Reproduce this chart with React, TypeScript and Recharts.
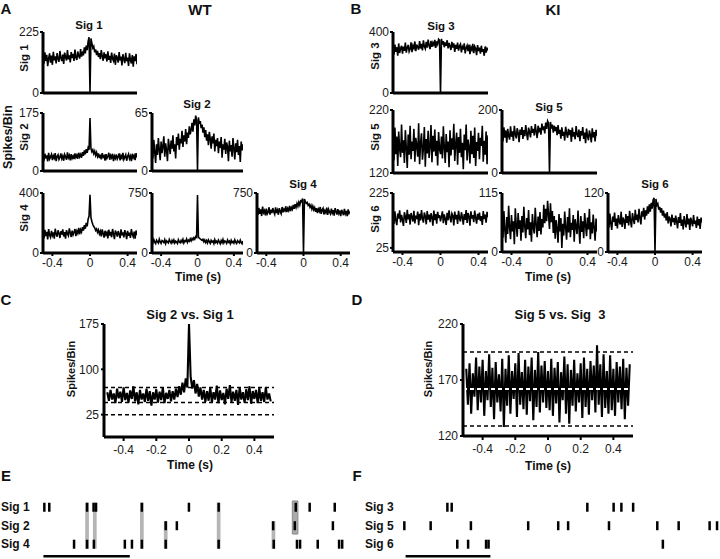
import { LineChart, Line, XAxis, YAxis, ReferenceLine, ReferenceArea, ScatterChart, Scatter } from 'recharts';

const FONT = '"Liberation Sans", Arial, Helvetica, sans-serif';

// lag bins (s)
const lags = [
  -0.5, -0.49, -0.48, -0.47, -0.46, -0.45, -0.44, -0.43, -0.42, -0.41,
  -0.4, -0.39, -0.38, -0.37, -0.36, -0.35, -0.34, -0.33, -0.32, -0.31,
  -0.3, -0.29, -0.28, -0.27, -0.26, -0.25, -0.24, -0.23, -0.22, -0.21,
  -0.2, -0.19, -0.18, -0.17, -0.16, -0.15, -0.14, -0.13, -0.12, -0.11,
  -0.1, -0.09, -0.08, -0.07, -0.06, -0.05, -0.04, -0.03, -0.02, -0.01,
  0,
  0.01, 0.02, 0.03, 0.04, 0.05, 0.06, 0.07, 0.08, 0.09, 0.1,
  0.11, 0.12, 0.13, 0.14, 0.15, 0.16, 0.17, 0.18, 0.19, 0.2,
  0.21, 0.22, 0.23, 0.24, 0.25, 0.26, 0.27, 0.28, 0.29, 0.3,
  0.31, 0.32, 0.33, 0.34, 0.35, 0.36, 0.37, 0.38, 0.39, 0.4,
  0.41, 0.42, 0.43, 0.44, 0.45, 0.46, 0.47, 0.48, 0.49, 0.5,
];

// WT correlograms (spikes/bin)
const wtSig1Sig1 = [
  132, 108, 150, 118, 141, 99, 128, 146, 112, 138,
  104, 152, 121, 135, 109, 147, 126, 115, 155, 130,
  118, 142, 107, 149, 133, 120, 158, 124, 139, 113,
  151, 129, 144, 118, 160, 131, 122, 153, 137, 127,
  162, 134, 148, 139, 168, 146, 175, 158, 190, 206,
  0,
  201, 184, 166, 172, 150, 161, 140, 155, 133, 147,
  125, 158, 136, 119, 150, 128, 143, 116, 154, 122,
  137, 111, 149, 126, 118, 145, 104, 139, 130, 112,
  151, 120, 134, 102, 143, 125, 110, 148, 117, 131,
  100, 146, 123, 109, 140, 97, 135, 118, 144, 106,
];
const wtSig2Sig1 = [
  44, 31, 52, 38, 47, 29, 55, 36, 42, 50,
  33, 46, 39, 54, 30, 44, 49, 35, 41, 53,
  37, 45, 31, 50, 43, 34, 56, 40, 47, 32,
  51, 38, 45, 36, 53, 41, 48, 37, 55, 43,
  50, 40, 57, 46, 62, 50, 66, 55, 70, 64,
  160,
  68, 58, 64, 52, 60, 47, 56, 44, 53, 39,
  49, 35, 54, 42, 46, 31, 51, 38, 44, 55,
  34, 47, 40, 52, 30, 45, 38, 50, 36, 43,
  53, 32, 46, 39, 55, 35, 42, 49, 31, 44,
  51, 37, 45, 30, 52, 40, 47, 33, 54, 41,
];
const wtSig2Sig2 = [
  26, 14, 35, 21, 9, 30, 18, 37, 24, 12,
  33, 20, 28, 39, 16, 31, 23, 11, 36, 27,
  19, 34, 25, 40, 22, 30, 14, 38, 29, 42,
  24, 36, 31, 45, 27, 40, 33, 47, 30, 43,
  37, 50, 41, 46, 54, 44, 58, 51, 62, 57,
  0,
  60, 53, 56, 48, 52, 43, 49, 38, 46, 34,
  41, 29, 44, 36, 25, 39, 31, 42, 22, 35,
  28, 37, 20, 33, 26, 38, 15, 30, 24, 36,
  19, 32, 27, 11, 34, 22, 29, 16, 37, 25,
  13, 31, 21, 35, 18, 28, 10, 33, 23, 30,
];
const wtSig4Sig1 = [
  130, 98, 155, 112, 141, 90, 160, 120, 105, 148,
  118, 137, 95, 162, 126, 109, 151, 132, 100, 145,
  123, 157, 110, 139, 96, 152, 128, 115, 164, 134,
  107, 149, 121, 138, 160, 113, 146, 131, 168, 125,
  155, 140, 172, 150, 185, 162, 200, 178, 225, 246,
  388,
  238, 210, 190, 176, 168, 150, 160, 138, 154, 127,
  145, 111, 158, 130, 102, 148, 122, 136, 97, 155,
  117, 141, 105, 160, 128, 93, 150, 134, 110, 146,
  125, 99, 157, 119, 138, 104, 152, 131, 92, 147,
  114, 136, 101, 159, 124, 108, 143, 96, 150, 120,
];
const wtSig4Sig2 = [
  150, 128, 168, 135, 118, 160, 142, 125, 172, 138,
  120, 155, 146, 130, 165, 117, 152, 139, 127, 170,
  144, 122, 158, 133, 162, 124, 149, 137, 119, 166,
  141, 129, 157, 136, 171, 126, 153, 145, 175, 134,
  160, 148, 178, 152, 182, 165, 190, 172, 205, 196,
  725,
  200, 185, 176, 168, 158, 172, 140, 163, 131, 156,
  126, 164, 143, 121, 159, 137, 150, 118, 167, 132,
  147, 124, 161, 139, 116, 155, 130, 169, 127, 151,
  142, 120, 163, 135, 148, 117, 158, 129, 144, 123,
  165, 134, 119, 154, 140, 126, 161, 131, 115, 149,
];
const wtSig4Sig4 = [
  520, 475, 565, 490, 545, 462, 580, 505, 530, 470,
  555, 488, 510, 572, 480, 540, 498, 562, 515, 485,
  570, 500, 535, 478, 560, 520, 492, 575, 508, 548,
  528, 584, 512, 556, 530, 590, 522, 568, 545, 600,
  552, 610, 570, 620, 585, 635, 600, 650, 640, 682,
  0,
  676, 642, 620, 632, 595, 610, 572, 598, 550, 585,
  540, 568, 515, 560, 498, 548, 520, 575, 490, 538,
  560, 482, 530, 505, 566, 476, 545, 512, 488, 555,
  500, 535, 468, 560, 522, 480, 548, 495, 530, 462,
  540, 508, 472, 552, 490, 525, 460, 545, 498, 520,
];

// KI correlograms
const kiSig3Sig3 = [
  285, 252, 318, 270, 300, 245, 325, 262, 292, 310,
  258, 305, 276, 330, 265, 298, 315, 272, 288, 332,
  268, 310, 294, 338, 275, 318, 300, 284, 340, 292,
  322, 280, 345, 305, 290, 335, 298, 350, 312, 288,
  342, 302, 330, 315, 348, 296, 338, 320, 352, 345,
  0,
  355, 318, 340, 300, 332, 310, 346, 292, 328, 306,
  282, 336, 298, 325, 270, 315, 290, 330, 278, 308,
  320, 266, 302, 285, 326, 260, 296, 312, 274, 318,
  255, 300, 284, 322, 262, 306, 292, 248, 314, 276,
  298, 258, 310, 270, 288, 244, 305, 265, 292, 280,
];
const kiSig5Sig3 = [
  165, 140, 192, 150, 178, 131, 186, 158, 145, 197,
  152, 172, 136, 188, 160, 128, 181, 149, 195, 142,
  170, 155, 190, 138, 176, 163, 146, 199, 134, 168,
  183, 141, 159, 193, 130, 174, 151, 187, 144, 162,
  196, 137, 179, 154, 189, 147, 171, 132, 185, 158,
  150,
  178, 143, 194, 160, 136, 182, 153, 170, 129, 188,
  148, 175, 157, 198, 139, 166, 184, 133, 177, 152,
  190, 145, 168, 126, 181, 156, 197, 140, 173, 161,
  135, 187, 150, 179, 144, 192, 131, 169, 155, 184,
  142, 176, 163, 195, 138, 171, 149, 186, 134, 180,
];
const kiSig5Sig5 = [
  128, 100, 145, 112, 135, 96, 140, 118, 106, 148,
  115, 132, 102, 150, 123, 110, 142, 127, 98, 138,
  121, 146, 108, 136, 117, 152, 125, 104, 144, 130,
  113, 149, 128, 140, 119, 155, 131, 111, 150, 134,
  143, 122, 157, 136, 148, 126, 160, 140, 165, 158,
  0,
  162, 141, 154, 128, 150, 133, 146, 120, 152, 124,
  137, 109, 145, 118, 131, 103, 147, 126, 112, 140,
  120, 136, 99, 144, 116, 130, 107, 149, 123, 114,
  138, 101, 133, 119, 146, 108, 128, 95, 141, 117,
  104, 135, 121, 97, 142, 113, 130, 100, 137, 118,
];
const kiSig6Sig3 = [
  140, 112, 158, 124, 108, 150, 132, 162, 118, 145,
  127, 105, 155, 138, 116, 164, 129, 147, 110, 152,
  136, 121, 160, 114, 143, 130, 157, 108, 149, 125,
  163, 133, 117, 154, 141, 111, 159, 128, 146, 119,
  151, 137, 106, 161, 126, 148, 113, 156, 134, 144,
  122,
  139, 158, 115, 147, 131, 109, 153, 126, 162, 136,
  118, 150, 142, 107, 157, 129, 145, 112, 160, 133,
  121, 155, 138, 110, 148, 127, 163, 116, 152, 140,
  106, 158, 132, 144, 119, 161, 135, 113, 149, 128,
  154, 123, 141, 109, 159, 130, 146, 117, 156, 137,
];
const kiSig6Sig5 = [
  55, 28, 80, 42, 18, 68, 35, 90, 48, 25,
  72, 40, 60, 15, 85, 52, 30, 76, 45, 62,
  22, 70, 38, 88, 50, 27, 66, 44, 82, 33,
  58, 20, 74, 47, 36, 86, 53, 29, 69, 41,
  78, 34, 64, 48, 92, 56, 84, 60, 100, 72,
  45,
  95, 58, 80, 37, 70, 26, 62, 45, 18, 74,
  40, 66, 8, 55, 32, 79, 47, 24, 68, 38,
  85, 29, 57, 43, 72, 20, 64, 50, 35, 81,
  46, 16, 70, 39, 60, 27, 76, 52, 31, 67,
  44, 84, 25, 58, 36, 73, 48, 22, 65, 40,
];
const kiSig6Sig6 = [
  66, 50, 78, 58, 45, 72, 61, 80, 53, 68,
  48, 75, 62, 56, 82, 51, 70, 64, 47, 77,
  59, 73, 54, 84, 63, 50, 79, 67, 57, 86,
  65, 76, 60, 88, 69, 56, 83, 72, 90, 66,
  85, 74, 93, 78, 97, 82, 100, 88, 106, 110,
  0,
  108, 95, 98, 86, 92, 80, 89, 74, 84, 70,
  78, 64, 81, 58, 72, 67, 52, 76, 61, 69,
  55, 74, 63, 48, 71, 59, 79, 53, 66, 46,
  73, 60, 50, 77, 56, 68, 45, 70, 62, 52,
  75, 57, 64, 49, 72, 54, 67, 47, 70, 60,
];

// C / D enlarged cross-correlograms
const cSig2vsSig1 = [
  62, 48, 66, 50, 60, 44, 68, 52, 63, 46,
  70, 49, 61, 45, 65, 51, 72, 47, 62, 42,
  66, 50, 60, 46, 68, 48, 64, 40, 62, 50,
  67, 45, 63, 49, 70, 44, 61, 51, 66, 47,
  64, 50, 68, 54, 72, 58, 78, 62, 85, 70,
  175,
  88, 68, 82, 60, 76, 55, 70, 50, 66, 46,
  64, 48, 70, 45, 62, 50, 73, 44, 65, 49,
  61, 42, 68, 51, 74, 46, 63, 48, 66, 41,
  70, 50, 62, 45, 67, 49, 72, 43, 64, 51,
  66, 44, 69, 48, 62, 46, 70, 50, 60, 47,
];
const cBounds = [70, 45, 25];

const dSig5vsSig3 = [
  180, 148, 185, 140, 176, 155, 190, 143, 182, 150,
  188, 138, 178, 152, 193, 146, 181, 135, 186, 150,
  175, 142, 189, 128, 180, 147, 192, 140, 178, 153,
  185, 137, 194, 148, 177, 144, 188, 139, 182, 151,
  190, 134, 179, 146, 195, 141, 183, 150, 187, 145,
  178,
  143, 189, 138, 181, 149, 186, 132, 177, 152, 191,
  140, 184, 131, 179, 147, 188, 142, 176, 150, 185,
  136, 190, 146, 180, 139, 187, 152, 183, 141, 201,
  148, 184, 137, 193, 145, 178, 140, 192, 143, 180,
  138, 186, 150, 182, 144, 189, 135, 181, 147, 184,
];
const dUpper = 195;
const dMean = 162;
const dLower = 129;

// raster spike times (ms)
const eNames = ['Sig 1', 'Sig 2', 'Sig 4'];
const eSig1 = [14, 30, 152, 173, 181, 329, 481, 577, 826, 871, 952];
const eSig2 = [406, 442, 753, 823, 946];
const eSig4 = [110, 152, 174, 274, 297, 329, 406, 577, 755, 830, 840, 897, 966, 976];
const eSync = [
  { t: 152, top: 3, bottom: 1 },
  { t: 177, top: 3, bottom: 1 },
  { t: 329, top: 3, bottom: 1 },
  { t: 406, top: 2, bottom: 1 },
  { t: 577, top: 3, bottom: 1 },
  { t: 754, top: 2, bottom: 1 },
];
const eBox = { t: 824, top: 3, bottom: 2 };
const eBar = [11, 290];

const fNames = ['Sig 3', 'Sig 5', 'Sig 6'];
const fSig3 = [153, 167, 605, 690, 715, 753];
const fSig5 = [14, 99, 229, 414, 511, 543, 675, 831, 900, 1000, 1024];
const fSig6 = [185, 220, 278, 286, 849];
const fBar = [18, 292];

const axisStyle = { stroke: '#000', strokeWidth: 3 };
const tickLineStyle = { stroke: '#000', strokeWidth: 2 };
const tickText = { fill: '#1a1a1a', fontSize: 12, fontFamily: FONT };

const Y_W = 34;
const M_TOP = 10;
const X_H = 22;

type MiniProps = {
  x: number;
  y: number;
  w: number;
  h: number;
  values: number[];
  domain: [number, number];
  yTicks: number[];
  showX?: boolean;
};

const Mini = ({ x, y, w, h, values, domain, yTicks, showX }: MiniProps) => {
  const data = lags.map((t, i) => ({ t, v: values[i] }));
  return (
    <div style={{ position: 'absolute', left: x - Y_W, top: y - M_TOP }}>
      <LineChart width={Y_W + w + 4} height={M_TOP + h + X_H} data={data} margin={{ top: M_TOP, right: 4, bottom: 0, left: 0 }}>
        <XAxis dataKey="t" type="number" domain={[-0.5, 0.5]} ticks={[-0.4, 0, 0.4]} height={X_H} axisLine={axisStyle} tickLine={tickLineStyle} tickSize={3} tickMargin={2} tick={showX ? tickText : false} interval={0} allowDataOverflow />
        <YAxis type="number" domain={domain} ticks={yTicks} width={Y_W} axisLine={axisStyle} tickLine={tickLineStyle} tickSize={3} tickMargin={1} tick={tickText} interval={0} allowDataOverflow />
        <Line type="linear" dataKey="v" stroke="#000" strokeWidth={1.6} dot={false} isAnimationActive={false} />
      </LineChart>
    </div>
  );
};

type BigProps = {
  x: number;
  y: number;
  w: number;
  h: number;
  values: number[];
  domain: [number, number];
  yTicks: number[];
  children?: any;
};

const Big = ({ x, y, w, h, values, domain, yTicks, children }: BigProps) => {
  const data = lags.map((t, i) => ({ t, v: values[i] }));
  return (
    <div style={{ position: 'absolute', left: x - 40, top: y - M_TOP }}>
      <LineChart width={40 + w + 4} height={M_TOP + h + 24} data={data} margin={{ top: M_TOP, right: 4, bottom: 0, left: 0 }}>
        <XAxis dataKey="t" type="number" domain={[-0.52, 0.52]} ticks={[-0.4, -0.2, 0, 0.2, 0.4]} height={24} axisLine={axisStyle} tickLine={tickLineStyle} tickSize={4} tickMargin={4} tick={tickText} interval={0} allowDataOverflow />
        <YAxis type="number" domain={domain} ticks={yTicks} width={40} axisLine={axisStyle} tickLine={tickLineStyle} tickSize={3} tickMargin={2} tick={tickText} interval={0} allowDataOverflow />
        <Line type="linear" dataKey="v" stroke="#000" strokeWidth={2.1} dot={false} isAnimationActive={false} />
        {children}
      </LineChart>
    </div>
  );
};

const SpikeMark = (p: any) => <rect x={p.cx - 1.25} y={p.cy - 4.5} width={2.5} height={9} fill="#000" />;

type RasterProps = {
  left: number;
  labelX: number;
  names: string[];
  rows: number[][];
  sync: { t: number; top: number; bottom: number }[];
  box?: { t: number; top: number; bottom: number };
  bar: number[];
};

const Raster = ({ left, labelX, names, rows, sync, box, bar }: RasterProps) => (
  <div style={{ position: 'absolute', left, top: 498 }}>
    <ScatterChart width={362} height={61} margin={{ top: 0, right: 0, bottom: 0, left: 0 }}>
      <XAxis type="number" dataKey="t" domain={[0, 1040]} hide allowDataOverflow />
      <YAxis
        type="number"
        dataKey="row"
        domain={[0.2, 3.5]}
        ticks={[1, 2, 3]}
        width={40}
        axisLine={false}
        tickLine={false}
        interval={0}
        allowDataOverflow
        tick={(p: any) => (
          <text x={labelX} y={p.y} dy={4} textAnchor="start" fontSize={12} fontWeight="bold" fill="#111" fontFamily={FONT}>
            {names[3 - p.payload.value]}
          </text>
        )}
      />
      {sync.map((s) => (
        <ReferenceArea key={s.t} x1={s.t - 6} x2={s.t + 6} y1={s.bottom - 0.25} y2={s.top + 0.25} fill="#b5b5b5" fillOpacity={1} stroke="none" ifOverflow="visible" />
      ))}
      {box && (
        <ReferenceArea x1={box.t - 9} x2={box.t + 9} y1={box.bottom - 0.45} y2={box.top + 0.34} fill="#aaaaaa" fillOpacity={1} stroke="#8a8a8a" strokeWidth={1} ifOverflow="visible" />
      )}
      {rows.map((times, k) => (
        <Scatter key={names[k]} data={times.map((t) => ({ t, row: 3 - k }))} shape={SpikeMark} isAnimationActive={false} />
      ))}
      <ReferenceLine segment={[{ x: bar[0], y: 0.35 }, { x: bar[1], y: 0.35 }]} stroke="#000" strokeWidth={2.5} />
    </ScatterChart>
  </div>
);

const Txt = ({ x, y, size, children, rotate, bold = true }: any) => (
  <div
    style={{
      position: 'absolute',
      left: x,
      top: y,
      transform: `translate(-50%, -50%)${rotate ? ' rotate(-90deg)' : ''}`,
      whiteSpace: 'pre',
      fontSize: size,
      fontWeight: bold ? 'bold' : 'normal',
      lineHeight: 1,
      color: '#111',
    }}
  >
    {children}
  </div>
);

export default function App() {
  return (
    <div style={{ position: 'absolute', left: 0, top: 0, width: 720, height: 559, background: '#fff', overflow: 'hidden', fontFamily: FONT }}>
      {/* panel A: WT */}
      <Mini x={43} y={32} w={94} h={61} values={wtSig1Sig1} domain={[0, 225]} yTicks={[0, 225]} />
      <Mini x={43} y={113} w={94} h={58} values={wtSig2Sig1} domain={[0, 175]} yTicks={[0, 175]} />
      <Mini x={152} y={113} w={91} h={58} values={wtSig2Sig2} domain={[0, 65]} yTicks={[0, 65]} />
      <Mini x={43} y={193} w={94} h={60} values={wtSig4Sig1} domain={[0, 400]} yTicks={[0, 400]} showX />
      <Mini x={152} y={193} w={91} h={60} values={wtSig4Sig2} domain={[0, 750]} yTicks={[0, 750]} showX />
      <Mini x={257} y={193} w={93} h={60} values={wtSig4Sig4} domain={[0, 750]} yTicks={[0, 750]} showX />

      {/* panel B: KI */}
      <Mini x={393} y={32} w={95} h={61} values={kiSig3Sig3} domain={[0, 400]} yTicks={[0, 400]} />
      <Mini x={393} y={110} w={95} h={63} values={kiSig5Sig3} domain={[120, 220]} yTicks={[120, 220]} />
      <Mini x={502} y={110} w={95} h={63} values={kiSig5Sig5} domain={[0, 200]} yTicks={[0, 200]} />
      <Mini x={393} y={193} w={95} h={59} values={kiSig6Sig3} domain={[10, 225]} yTicks={[25, 225]} showX />
      <Mini x={502} y={193} w={95} h={59} values={kiSig6Sig5} domain={[0, 115]} yTicks={[0, 115]} showX />
      <Mini x={608} y={193} w={94} h={59} values={kiSig6Sig6} domain={[0, 120]} yTicks={[0, 120]} showX />

      {/* panel C */}
      <Big x={104} y={324} w={170} h={113} values={cSig2vsSig1} domain={[-12, 175]} yTicks={[25, 100, 175]}>
        {cBounds.map((b) => (
          <ReferenceLine key={b} y={b} stroke="#000" strokeWidth={1.5} strokeDasharray="4 3" />
        ))}
      </Big>

      {/* panel D */}
      <Big x={463} y={324} w={170} h={112} values={dSig5vsSig3} domain={[120, 220]} yTicks={[120, 170, 220]}>
        <ReferenceLine y={dUpper} stroke="#000" strokeWidth={1.5} strokeDasharray="4 3" />
        <ReferenceLine y={dMean} stroke="#fff" strokeWidth={2} strokeDasharray="4 3" />
        <ReferenceLine y={dLower} stroke="#000" strokeWidth={1.5} strokeDasharray="4 3" />
      </Big>

      {/* panels E, F: rasters */}
      <Raster left={0} labelX={1} names={eNames} rows={[eSig1, eSig2, eSig4]} sync={eSync} box={eBox} bar={eBar} />
      <Raster left={360} labelX={5} names={fNames} rows={[fSig3, fSig5, fSig6]} sync={[]} bar={fBar} />

      {/* labels */}
      <Txt x={6} y={8} size={15}>A</Txt>
      <Txt x={200} y={9} size={15}>WT</Txt>
      <Txt x={356} y={8} size={15}>B</Txt>
      <Txt x={553} y={9} size={15}>KI</Txt>

      <Txt x={89} y={26} size={11.5}>Sig 1</Txt>
      <Txt x={197} y={105} size={11.5}>Sig 2</Txt>
      <Txt x={303} y={185} size={11.5}>Sig 4</Txt>
      <Txt x={441} y={27} size={11.5}>Sig 3</Txt>
      <Txt x={549} y={108} size={11.5}>Sig 5</Txt>
      <Txt x={655} y={185} size={11.5}>Sig 6</Txt>

      <Txt x={25} y={58} size={11.5} rotate>Sig 1</Txt>
      <Txt x={25} y={137} size={11.5} rotate>Sig 2</Txt>
      <Txt x={25} y={218} size={11.5} rotate>Sig 4</Txt>
      <Txt x={376} y={56} size={11.5} rotate>Sig 3</Txt>
      <Txt x={376} y={137} size={11.5} rotate>Sig 5</Txt>
      <Txt x={376} y={219} size={11.5} rotate>Sig 6</Txt>
      <Txt x={8} y={137} size={12.5} rotate>Spikes/Bin</Txt>

      <Txt x={198} y={277} size={12}>Time (s)</Txt>
      <Txt x={548} y={277} size={12}>Time (s)</Txt>

      <Txt x={6} y={299} size={15}>C</Txt>
      <Txt x={357} y={299} size={15}>D</Txt>
      <Txt x={190} y={314} size={13}>Sig 2 vs. Sig 1</Txt>
      <Txt x={560} y={314} size={13}>Sig 5 vs. Sig  3</Txt>
      <Txt x={71} y={369} size={11} rotate>Spikes/Bin</Txt>
      <Txt x={428} y={369} size={11} rotate>Spikes/Bin</Txt>
      <Txt x={190} y={465} size={12}>Time (s)</Txt>
      <Txt x={548} y={466} size={12}>Time (s)</Txt>

      <Txt x={6} y={475} size={15}>E</Txt>
      <Txt x={357} y={475} size={15}>F</Txt>
    </div>
  );
}
